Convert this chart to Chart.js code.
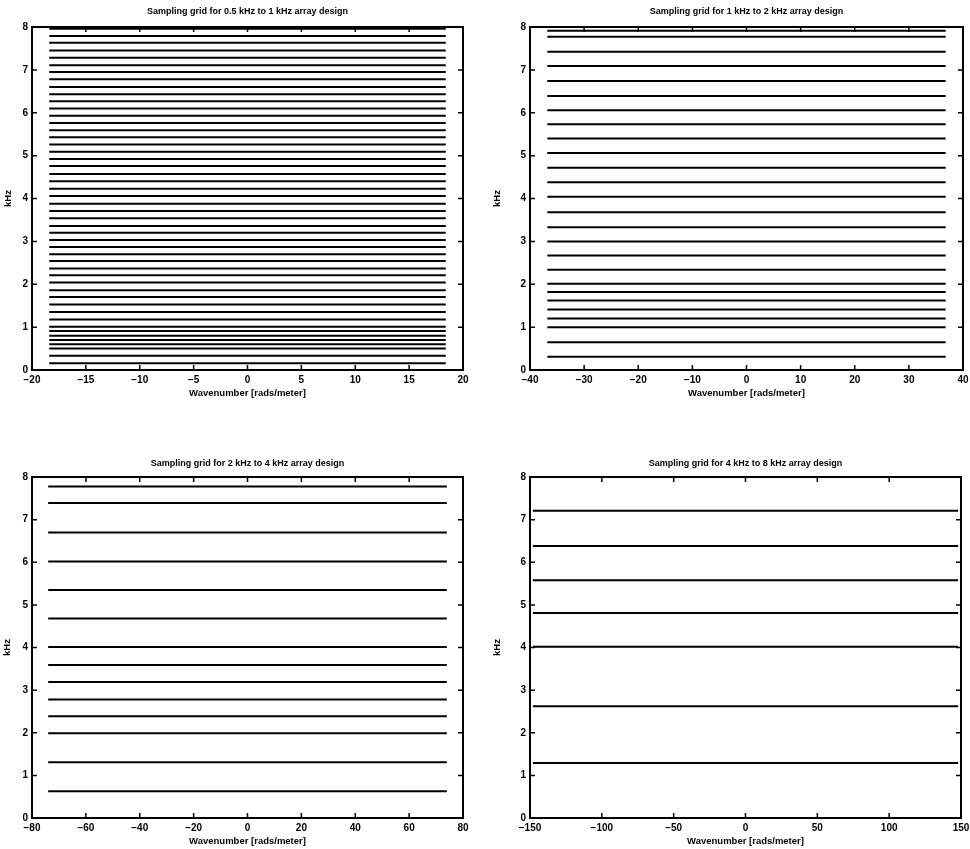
<!DOCTYPE html>
<html>
<head>
<meta charset="utf-8">
<title>Sampling grids</title>
<script src="https://cdn.jsdelivr.net/npm/chart.js@4.4.1/dist/chart.umd.min.js"></script>
<style>
    body { margin: 0; background: #fff; }
    #page { position: relative; width: 970px; height: 849px; overflow: hidden; }
    #page canvas { position: absolute; }
</style>
</head>
<body>
<div id="page">
    <canvas id="grid05to1"></canvas>
    <canvas id="grid1to2"></canvas>
    <canvas id="grid2to4"></canvas>
    <canvas id="grid4to8"></canvas>
</div>
<script>
// ==============================================
// DATA - grid frequencies (kHz) per array band
// ==============================================
const bandTitles = [
    'Sampling grid for 0.5 kHz to 1 kHz array design',
    'Sampling grid for 1 kHz to 2 kHz array design',
    'Sampling grid for 2 kHz to 4 kHz array design',
    'Sampling grid for 4 kHz to 8 kHz array design'
];

const freqs05to1 = [0.16, 0.33, 0.50, 0.60, 0.70, 0.80, 0.91, 1.01, 1.18, 1.35,
    1.53, 1.70, 1.86, 2.04, 2.21, 2.37, 2.54, 2.70, 2.87, 3.03, 3.20, 3.36,
    3.54, 3.71, 3.88, 4.06, 4.23, 4.40, 4.57, 4.76, 4.92, 5.09, 5.26, 5.43,
    5.59, 5.76, 5.93, 6.10, 6.27, 6.43, 6.60, 6.78, 6.95, 7.11, 7.28, 7.45,
    7.63, 7.79, 7.96];
const freqs1to2 = [0.31, 0.65, 1.00, 1.20, 1.41, 1.62, 1.82, 2.01, 2.34, 2.67,
    3.00, 3.33, 3.68, 4.04, 4.38, 4.72, 5.06, 5.40, 5.73, 6.06, 6.39, 6.74,
    7.09, 7.42, 7.77, 7.91];
const freqs2to4 = [0.63, 1.31, 1.99, 2.39, 2.78, 3.19, 3.59, 4.01, 4.68, 5.35,
    6.02, 6.70, 7.39, 7.78];
const freqs4to8 = [1.29, 2.62, 4.02, 4.81, 5.58, 6.38, 7.21];

// max wavenumber (rads/meter) covered by each grid
const wavenumberSpans = [18.4, 36.8, 74, 148];

// axis limits and tick steps
const xLimits = [20, 40, 80, 150];
const xSteps = [5, 10, 20, 50];
const yLimits = [0, 8];
const yStep = 1;

// ==============================================
// LAYOUT (page pixels)
// ==============================================
const panels = [
    { id: 'grid05to1', box: [0, 0, 485, 425],   area: [32, 463, 27, 370],  titleY: 12,  yTitleX: 8 },
    { id: 'grid1to2',  box: [485, 0, 485, 425], area: [530, 963, 27, 370], titleY: 12,  yTitleX: 497 },
    { id: 'grid2to4',  box: [0, 425, 485, 424], area: [32, 463, 477, 818], titleY: 464, yTitleX: 7 },
    { id: 'grid4to8',  box: [485, 425, 485, 424], area: [530, 961, 477, 818], titleY: 464, yTitleX: 497 }
];

const FONT_FAMILY = '"Liberation Sans", Arial, Helvetica, sans-serif';
const LABEL_LH = 10.8;

document.addEventListener('DOMContentLoaded', function() {
    const allFreqs = [freqs05to1, freqs1to2, freqs2to4, freqs4to8];
    panels.forEach((panel, i) => drawGrid(panel, i, allFreqs[i]));
});

// ==============================================
// FRAME - box with inward ticks on all sides
// ==============================================
const frameBox = {
    id: 'frameBox',
    afterDatasetsDraw(chart) {
        const { ctx, chartArea: a, scales: { x, y } } = chart;
        const len = 5;
        ctx.save();
        ctx.strokeStyle = '#000';
        ctx.lineWidth = 1.5;
        ctx.beginPath();
        x.ticks.forEach(t => {
            const px = x.getPixelForValue(t.value);
            ctx.moveTo(px, a.bottom); ctx.lineTo(px, a.bottom - len);
            ctx.moveTo(px, a.top); ctx.lineTo(px, a.top + len);
        });
        y.ticks.forEach(t => {
            const py = y.getPixelForValue(t.value);
            ctx.moveTo(a.left, py); ctx.lineTo(a.left + len, py);
            ctx.moveTo(a.right, py); ctx.lineTo(a.right - len, py);
        });
        ctx.stroke();
        ctx.lineWidth = 2;
        ctx.strokeRect(a.left, a.top, a.right - a.left, a.bottom - a.top);
        ctx.restore();
    }
};

// tick text with a proper minus sign
function minusLabel(value) {
    return String(value).replace('-', '\u2212');
}

// ==============================================
// CHART
// ==============================================
function drawGrid(panel, idx, freqs) {
    const canvas = document.getElementById(panel.id);
    const [bx, by, bw, bh] = panel.box;
    const [aLeft, aRight, aTop, aBottom] = panel.area;
    canvas.style.left = bx + 'px';
    canvas.style.top = by + 'px';
    canvas.width = bw;
    canvas.height = bh;

    const span = wavenumberSpans[idx];
    const datasets = freqs.map(f => ({
        data: [{ x: -span, y: f }, { x: span, y: f }],
        showLine: true,
        borderColor: '#000',
        borderWidth: 2,
        pointRadius: 0
    }));

    // title sits above the plot area, centred on titleY
    const titlePadTop = panel.titleY - by - LABEL_LH / 2;
    const titlePadBottom = aTop - by - titlePadTop - LABEL_LH;

    const yScaleLeft = panel.yTitleX - LABEL_LH / 2;
    const yScaleWidth = aLeft - yScaleLeft;
    const xScaleHeight = 23 + LABEL_LH / 2;

    const tickFont = { family: FONT_FAMILY, size: 10, weight: 'bold' };
    const labelFont = { family: FONT_FAMILY, size: 9.5, weight: 'bold', lineHeight: 1.137 };

    new Chart(canvas, {
        type: 'scatter',
        data: { datasets },
        plugins: [frameBox],
        options: {
            responsive: false,
            animation: false,
            events: [],
            layout: {
                padding: {
                    left: yScaleLeft - bx,
                    right: bx + bw - aRight,
                    top: 0,
                    bottom: by + bh - aBottom - xScaleHeight
                }
            },
            plugins: {
                legend: { display: false },
                tooltip: { enabled: false },
                title: {
                    display: true,
                    text: bandTitles[idx],
                    color: '#000',
                    fullSize: false,
                    font: { family: FONT_FAMILY, size: 9, weight: 'bold', lineHeight: 1.2 },
                    padding: { top: titlePadTop, bottom: titlePadBottom }
                }
            },
            scales: {
                x: {
                    type: 'linear',
                    min: -xLimits[idx],
                    max: xLimits[idx],
                    grid: { display: false, drawTicks: false },
                    border: { display: false },
                    ticks: {
                        stepSize: xSteps[idx], color: '#000', font: tickFont, padding: 4, maxRotation: 0,
                        callback: minusLabel
                    },
                    title: { display: true, text: 'Wavenumber [rads/meter]', color: '#000', font: labelFont, padding: 0 },
                    afterFit(scale) {
                        scale.height = xScaleHeight;
                        scale.paddingLeft = 0;
                        scale.paddingRight = 0;
                    }
                },
                y: {
                    min: yLimits[0],
                    max: yLimits[1],
                    grid: { display: false, drawTicks: false },
                    border: { display: false },
                    ticks: { stepSize: yStep, color: '#000', font: tickFont, padding: 4 },
                    title: { display: true, text: 'kHz', color: '#000', font: labelFont, padding: 0 },
                    afterFit(scale) {
                        scale.width = yScaleWidth;
                        scale.paddingTop = 0;
                        scale.paddingBottom = 0;
                    }
                }
            }
        }
    });
}
</script>
</body>
</html>
